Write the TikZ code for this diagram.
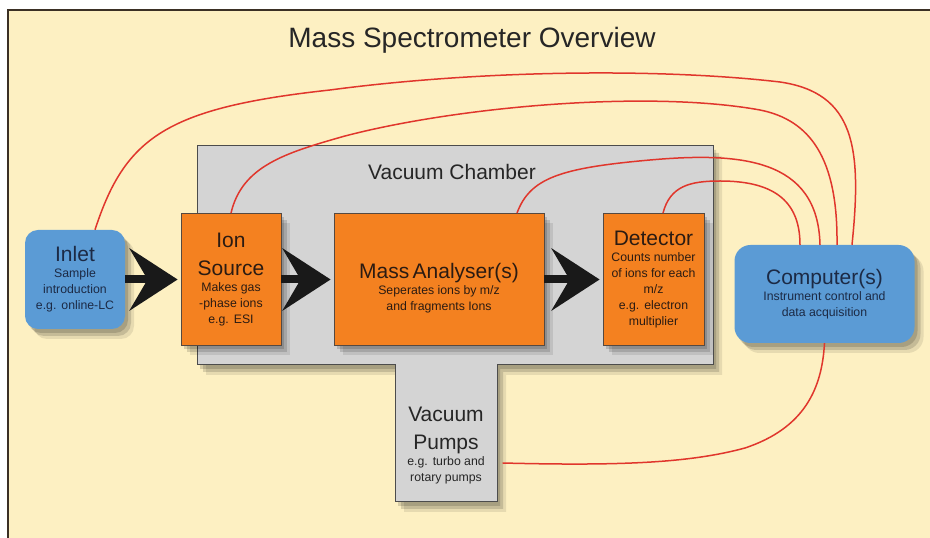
\documentclass[tikz,border=0pt]{standalone}
\usepackage{fontspec}
\setmainfont{Liberation Sans}
\usetikzlibrary{arrows.meta,shadows,positioning}
\definecolor{paper}{HTML}{FDF0C2}
\definecolor{frameline}{HTML}{3B3024}
\definecolor{chambergrey}{HTML}{D4D4D4}
\definecolor{stageorange}{HTML}{F48120}
\definecolor{portblue}{HTML}{5B9BD5}
\definecolor{wirered}{HTML}{E0362C}
\definecolor{inkblue}{HTML}{1C2A45}
\definecolor{inkbrown}{HTML}{2B1B12}
\newcommand{\headtext}[1]{{\fontsize{21}{28}\selectfont #1\par}}
\newcommand{\subtext}[1]{{\fontsize{12.3}{16}\selectfont #1\par}}

\begin{document}
\begin{tikzpicture}[x=1pt, y=1pt,
    boxshadow/.style = {general shadow={fill=black, opacity=.15, shadow xshift=3pt, shadow yshift=-4pt},
                        general shadow={fill=black, opacity=.14, shadow xshift=6pt, shadow yshift=-7pt},
                        general shadow={fill=black, opacity=.09, shadow xshift=9pt, shadow yshift=-10pt}},
    stage/.style = {boxshadow, draw=inkbrown!80, line width=0.8pt, fill=stageorange, text=inkbrown,
                    inner sep=0pt, align=center, minimum height=132pt},
    port/.style = {boxshadow, fill=portblue, text=inkblue, rounded corners=13pt, inner sep=0pt, align=center},
    wire/.style = {wirered, line width=1.5pt},
    flow/.style = {line width=8pt, black!90, -{Stealth[length=48pt, width=62pt, inset=18pt]}, shorten >=3pt}]

        \useasboundingbox (0,0) rectangle (930,538);
        \fill[white] (0,0) rectangle (930,538);
        \fill[paper] (8,-5) rectangle (940,528);
        \draw[frameline, line width=1.2pt] (8,-5) -- (8,528) -- (940,528);

        \node[font=\fontsize{28}{34}\selectfont, text=black!85] (title) at (472,498) {Mass Spectrometer Overview};

        % chamber and pumps as one outline
        \path[boxshadow, fill=chambergrey, draw=black!70, line width=1pt]
            (197,392) -- (713,392) -- (713,173) -- (497,173) -- (497,36) -- (395,36) -- (395,173) -- (197,173) -- cycle;
        \node[font=\fontsize{21}{26}\selectfont, text=black!85] (chamber) at (452,366) {Vacuum Chamber};
        \node[align=center, text width=100pt, text=black!85] (pumps) at (446,92)
            {\headtext{Vacuum\\Pumps}\subtext{e.g. turbo and\\rotary pumps}};

        \node[stage, minimum width=100pt, text width=100pt] (source) at (231,258.5)
            {\headtext{Ion\\Source}\subtext{Makes gas\\-phase ions\\e.g. ESI}};
        \node[port, minimum width=100pt, minimum height=99pt, text width=100pt] (inlet) [left of=source, node distance=156pt]
            {\headtext{Inlet}\subtext{Sample\\introduction\\e.g. online-LC}};
        \node[stage, minimum width=210pt, text width=210pt] (analyser) [right of=source, node distance=208pt]
            {\headtext{\rule{0pt}{32pt}Mass Analyser(s)}\subtext{Seperates ions by m/z\\and fragments Ions}};
        \node[stage, minimum width=101pt, text width=101pt] (detector) [right of=analyser, node distance=214.5pt]
            {\headtext{Detector}\subtext{Counts number\\of ions for each\\m/z\\e.g. electron\\multiplier}};
        \node[port, minimum width=180pt, minimum height=98pt, text width=180pt, rounded corners=16pt] (computer) at (824.5,244)
            {\headtext{Computer(s)}\subtext{Instrument control and\\data acquisition}};

        \draw[flow] (inlet) -- (source);
        \draw[flow] (source) -- (analyser);
        \draw[flow] (analyser) -- (detector);

        \draw[wire] ([xshift=20pt]inlet.north) .. controls (125,400) and (165,430) .. (330,448)
            .. controls (480,468) and (660,470) .. (780,456) .. controls (855,445) and (862,390) .. ([xshift=27.5pt]computer.north);
        \draw[wire] (source.north) .. controls (242,372) and (285,385) .. (345,402)
            .. controls (460,432) and (650,448) .. (760,428) .. controls (810,418) and (838,380) .. ([xshift=12.5pt]computer.north);
        \draw[wire] ([xshift=78pt]analyser.north) .. controls (530,360) and (560,370) .. (650,378)
            .. controls (740,386) and (818,380) .. ([xshift=-4.5pt]computer.north);
        \draw[wire] ([xshift=9.5pt]detector.north) .. controls (670,352) and (690,357) .. (720,357)
            .. controls (770,357) and (800,340) .. ([xshift=-24.5pt]computer.north);
        \draw[wire] ([shift={(3pt,-17pt)}]pumps.east) .. controls (620,72) and (690,75) .. (745,90)
            .. controls (805,110) and (822,150) .. (computer.south);

\end{tikzpicture}
\end{document}
